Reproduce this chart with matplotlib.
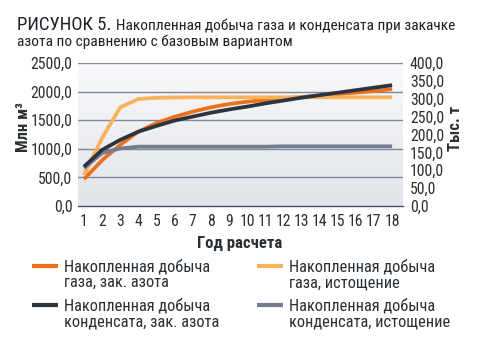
import matplotlib
matplotlib.use("Agg")
import matplotlib.pyplot as plt
import numpy as np
from matplotlib.lines import Line2D
from matplotlib.colors import LinearSegmentedColormap

years = list(range(1, 19))
gas_n2 = [470, 800, 1070, 1300, 1450, 1560, 1650, 1725, 1783, 1823, 1853, 1880, 1905, 1930, 1955, 1982, 2010, 2045]
gas_depl = [540, 1190, 1725, 1870, 1893, 1898, 1900, 1900, 1900, 1900, 1900, 1900, 1900, 1900, 1900, 1900, 1900, 1900]
cond_n2 = [110, 157, 185, 208, 224, 239, 250, 261, 270, 278, 287, 295, 303, 310, 317, 324, 331, 338]
cond_depl = [106, 148, 161, 166, 166, 166, 166, 166, 166, 166, 166, 167, 167, 167, 167, 167, 167, 167]

left_ticks = [0, 500, 1000, 1500, 2000, 2500]
right_ticks = [0, 50, 100, 150, 200, 250, 300, 350, 400]
labels = ["Накопленная добыча\nгаза, зак. азота", "Накопленная добыча\nгаза, истощение",
          "Накопленная добыча\nконденсата, зак. азота", "Накопленная добыча\nконденсата, истощение"]

plt.rcParams['font.family'] = ['Roboto Condensed', 'DejaVu Sans']

c_orange = "#EC6F1C"
c_lorange = "#FBB159"
c_dark = "#2C3440"
c_gray = "#737C8E"
c_text = "#2A2E35"

W, H = 479, 340
fig = plt.figure(figsize=(4.79, 3.40), dpi=100)
ax = fig.add_axes([78/W, 1-206/H, (403-78)/W, (206-63)/H])

grad = np.linspace(1, 0, 256).reshape(-1, 1)
cm = LinearSegmentedColormap.from_list("bg", ["#E1E4E9", "#F8F9FA"])
ax.imshow(grad, extent=[0, 1, 0, 1], transform=ax.transAxes, cmap=cm, aspect='auto', zorder=0)

ax.set_xlim(0.67, 18.6)
ax.set_ylim(0, 2500)
ax.set_yticks(left_ticks)
ax.set_yticklabels([f"{v},0" for v in left_ticks])
ax.set_xticks(years)
ax.set_xticklabels([str(y) for y in years])
for v in left_ticks[1:]:
    ax.axhline(v, color="#7E879B", lw=1.0, zorder=1)
for s in ["top", "right", "left"]:
    ax.spines[s].set_visible(False)
ax.spines["bottom"].set_color("#4A5160")
ax.spines["bottom"].set_linewidth(1.0)
ax.tick_params(axis='both', length=0, labelsize=11.3, colors=c_text)
ax.tick_params(axis='x', pad=6)
ax.tick_params(axis='y', pad=4)

l1, = ax.plot(years, gas_n2, color=c_orange, lw=2.7, zorder=3, solid_capstyle='butt')
l2, = ax.plot(years, gas_depl, color=c_lorange, lw=2.7, zorder=3, solid_capstyle='butt')

ax2 = ax.twinx()
ax2.set_ylim(0, 400)
ax2.set_yticks(right_ticks)
ax2.set_yticklabels([f"{v},0" for v in right_ticks])
for s in ["top", "right", "left", "bottom"]:
    ax2.spines[s].set_visible(False)
ax2.tick_params(axis='y', length=0, labelsize=11.3, colors=c_text, pad=5)
l4, = ax2.plot(years, cond_depl, color=c_gray, lw=2.7, zorder=3, solid_capstyle='butt')
l3, = ax2.plot(years, cond_n2, color=c_dark, lw=2.7, zorder=4, solid_capstyle='butt')

fig.text(240/W, 1-243/H, "Год расчета", fontsize=12, fontweight='bold', color=c_text, ha='center', va='center')
fig.text(23/W, 1-127/H, "Млн м³", fontsize=12, fontweight='bold', color=c_text, ha='center', va='center', rotation=90)
fig.text(456/W, 1-128/H, "Тыс. т", fontsize=12, fontweight='bold', color=c_text, ha='center', va='center', rotation=90)

# title
fig.text(17/W, 1-30/H, "РИСУНОК 5.", fontsize=13.5, color="#1E2128", va='baseline')
fig.text(116/W, 1-30/H, "Накопленная добыча газа и конденсата при закачке", fontsize=11.1, color="#1E2128", va='baseline')
fig.text(17/W, 1-46/H, "азота по сравнению с базовым вариантом", fontsize=11.1, color="#1E2128", va='baseline')

# legend
handles = [l1, l2, l3, l4]
pos = [(32, 266), (257, 266), (32, 305), (257, 305)]
for h, lab, (x, y) in zip(handles, labels, pos):
    fig.add_artist(Line2D([x/W, (x+26)/W], [1-y/H, 1-y/H], transform=fig.transFigure,
                          color=h.get_color(), lw=3.0, solid_capstyle='butt'))
    fig.text((x+32)/W, 1-(y-7)/H, lab, fontsize=11.8, color=c_text, va='top', linespacing=1.05)

fig.savefig("out.png", dpi=100)
